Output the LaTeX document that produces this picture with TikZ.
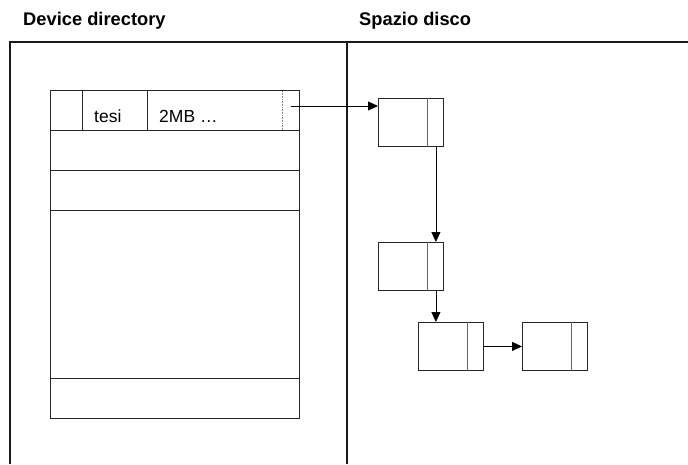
\documentclass[tikz,border=0pt]{standalone}
\usepackage{fontspec}
\setmainfont{Liberation Sans}
\usetikzlibrary{arrows.meta}
\begin{document}
\begin{tikzpicture}[x=1pt,y=-1pt,
  frame/.style={line width=1.4pt,black!90},
  tab/.style={line width=0.9pt,black!85},
  blk/.style={draw,line width=0.9pt,black!85,minimum width=65pt,minimum height=48pt,inner sep=0pt,anchor=north west},
  sep/.style={line width=0.9pt,black!60},
  link/.style={line width=0.8pt,-{Triangle[length=10pt,width=9pt]}},
  title/.style={font=\bfseries\fontsize{18.3}{21}\selectfont,anchor=base west,inner sep=0pt},
  cell/.style={font=\fontsize{17.5}{20}\selectfont,anchor=base west,inner sep=0pt}]
\useasboundingbox (0,0) rectangle (688,464);
% titles
\node[title] (t1) at (23,25.5) {Device directory};
\node[title] (t2) at (359,25.5) {Spazio disco};
% frame
\draw[frame] (10,464) -- (10,42) -- (689,42);
\draw[frame] (347,42) -- (347,464);
% directory table
\draw[tab] (50,90) rectangle (299,418);
\foreach \y in {130,170,210,378} \draw[tab] (50,\y) -- (299,\y);
\draw[tab] (82,90) -- (82,130);
\draw[tab] (147,90) -- (147,130);
\draw[black!45,densely dotted,line width=0.6pt] (282,91) -- (282,130);
\node[cell] (tesi) at (94,122) {tesi};
\node[cell] (mb) at (159,122) {2MB …};
\coordinate (src) at (291,106);
% blocks
\node[blk] (b1) at (378,98) {};
\node[blk] (b2) at (378,242) {};
\node[blk] (b3) at (418,322) {};
\node[blk] (b4) at (522,322) {};
\foreach \b in {b1,b2,b3,b4}
  \draw[sep] ([xshift=-16pt]\b.north east) -- ([xshift=-16pt]\b.south east);
% links
\draw[link] (src) -- (b1.west |- src);
\draw[link] ([xshift=-8pt]b1.south east) -- ([xshift=-8pt]b2.north east);
\draw[link] ([xshift=-8pt]b2.south east) -- ([xshift=-8pt]b2.south east |- b3.north);
\draw[link] (b3.east) -- (b4.west);
\end{tikzpicture}
\end{document}
